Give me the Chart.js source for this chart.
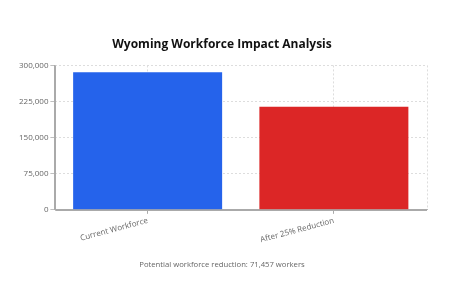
<!DOCTYPE html>
<html>
<head>
<meta charset="utf-8">
<script src="https://cdn.jsdelivr.net/npm/chart.js@4"></script>
<style>
  html, body { margin: 0; padding: 0; background: #fff; }
  #wrap { width: 449px; height: 283px; position: relative; }
</style>
</head>
<body>
<div id="wrap"><canvas id="chart"></canvas></div>
<script>
// chart data
const categories = ['Current Workforce', 'After 25% Reduction'];
const workers = [285828, 214371];
const barColors = ['#2563eb', '#dc2626'];
const yTicks = [0, 75000, 150000, 225000, 300000];
const reduction = 71457;

// dashed line on the right edge of the plot
const rightEdge = {
    id: 'rightEdge',
    beforeDatasetsDraw(chart) {
        const { ctx, chartArea } = chart;
        ctx.save();
        ctx.strokeStyle = '#dddddd';
        ctx.lineWidth = 1;
        ctx.setLineDash([2, 2]);
        ctx.beginPath();
        ctx.moveTo(Math.round(chartArea.right) + 0.5, chartArea.top);
        ctx.lineTo(Math.round(chartArea.right) + 0.5, chartArea.bottom);
        ctx.stroke();
        ctx.restore();
    }
};

// solid axis lines over the dashed grid
const axisLines = {
    id: 'axisLines',
    afterDatasetsDraw(chart) {
        const { ctx, chartArea } = chart;
        ctx.save();
        ctx.strokeStyle = '#aaaaaa';
        ctx.lineWidth = 1;
        ctx.beginPath();
        const l = Math.round(chartArea.left) + 0.5;
        const b = Math.round(chartArea.bottom) + 0.5;
        ctx.moveTo(l, chartArea.top);
        ctx.lineTo(l, b);
        ctx.lineTo(chartArea.right, b);
        ctx.stroke();
        ctx.restore();
    }
};

new Chart(document.getElementById('chart'), {
    type: 'bar',
    data: {
        labels: categories,
        datasets: [{
            data: workers,
            backgroundColor: barColors,
            borderWidth: 0,
            barPercentage: 1,
            categoryPercentage: 0.8
        }]
    },
    plugins: [rightEdge, axisLines],
    options: {
        responsive: true,
        maintainAspectRatio: false,
        animation: false,
        layout: { padding: { left: 17, right: 22, top: 37, bottom: 6 } },
        plugins: {
            legend: { display: false },
            tooltip: { enabled: false },
            title: {
                display: true,
                text: 'Wyoming Workforce Impact Analysis',
                color: '#111',
                font: { family: 'Open Sans', size: 12, weight: 'bold' },
                padding: { top: 0, bottom: 14 }
            },
            subtitle: {
                display: true,
                position: 'bottom',
                text: 'Potential workforce reduction: ' + reduction.toLocaleString('en-US') + ' workers',
                color: '#666',
                font: { family: 'Open Sans', size: 7.7 },
                padding: { top: 13, bottom: 8 }
            }
        },
        scales: {
            x: {
                offset: true,
                grid: {
                    offset: false,
                    color: '#dddddd',
                    tickColor: '#aaa',
                    tickBorderDash: [1, 0],
                    tickLength: 4
                },
                border: { color: '#aaa', width: 1, dash: [2, 2] },
                ticks: {
                    color: '#666',
                    font: { family: 'Open Sans', size: 8 },
                    minRotation: 15,
                    maxRotation: 15,
                    padding: 2
                }
            },
            y: {
                min: 0,
                max: 300000,
                afterBuildTicks(axis) {
                    axis.ticks = yTicks.map(v => ({ value: v }));
                },
                grid: {
                    color: '#dddddd',
                    tickColor: '#aaa',
                    tickBorderDash: [1, 0],
                    tickLength: 4
                },
                border: { color: '#aaa', width: 1, dash: [2, 2] },
                ticks: {
                    color: '#666',
                    font: { family: 'Open Sans', size: 8 },
                    padding: 2,
                    callback: v => v.toLocaleString('en-US')
                }
            }
        }
    }
});
</script>
</body>
</html>
